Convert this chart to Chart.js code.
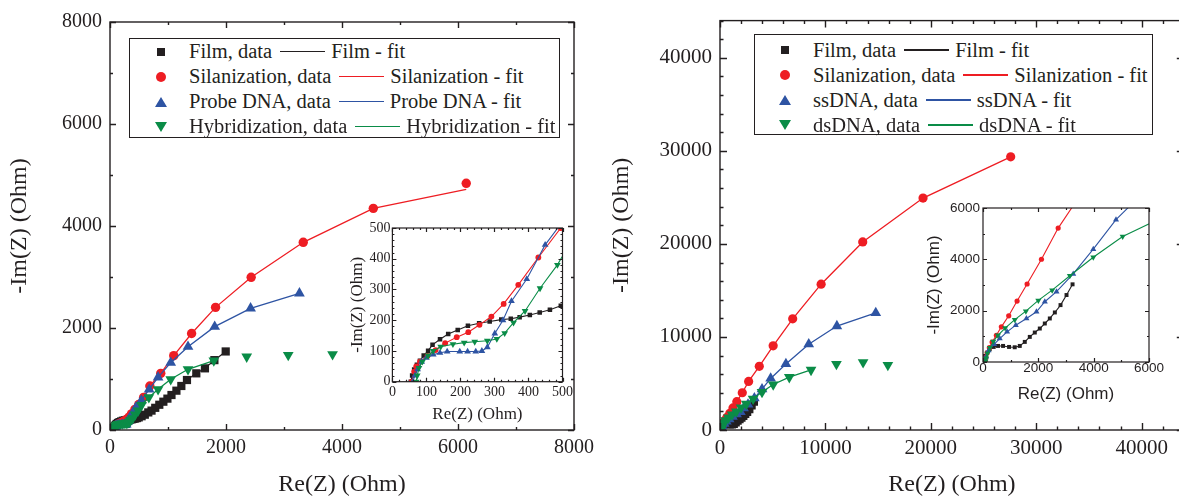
<!DOCTYPE html>
<html>
<head>
<meta charset="utf-8">
<script src="https://cdn.jsdelivr.net/npm/chart.js@4.4.1/dist/chart.umd.min.js"></script>
<style>
html, body { margin: 0; padding: 0; background: #fff; overflow: hidden; }
#wrap { position: relative; width: 1179px; height: 497px; overflow: hidden; }
canvas { position: absolute; }
.legend { position: absolute; border: 1.3px solid #231f20; background: #fff; box-sizing: border-box;
  font-family: "Liberation Serif", "Times New Roman", serif; font-size: 20.5px; color: #231f20; }
.row { position: absolute; left: 0; height: 25px; display: flex; align-items: center; white-space: nowrap; }
.sym { position: absolute; top: 50%; transform: translate(-50%, -50%); }
.sq { width: 8px; height: 8px; background: var(--c); }
.ci { width: 10px; height: 10px; border-radius: 50%; background: var(--c); }
.up { width: 0; height: 0; border-left: 6px solid transparent; border-right: 6px solid transparent; border-bottom: 10px solid var(--c); }
.dn { width: 0; height: 0; border-left: 6px solid transparent; border-right: 6px solid transparent; border-top: 10px solid var(--c); }
.ln { display: inline-block; width: 45px; height: 1.3px; margin: 0 6px 0 8px; }
</style>
</head>
<body>
<div id="wrap">
  <canvas id="mainL"></canvas>
  <canvas id="mainR"></canvas>
  <canvas id="insetL"></canvas>
  <canvas id="insetR"></canvas>
  <div id="legL" class="legend"></div>
  <div id="legR" class="legend"></div>
</div>
<script>
// ---- left panel (Probe DNA / Hybridization) ----
var namesL = ['Film', 'Silanization', 'Probe DNA', 'Hybridization'];

var filmReL = [54, 58, 64, 72, 81, 92, 105, 118, 140, 164, 192, 222, 255, 286, 320, 348, 374, 404, 433, 463, 495, 545, 600, 660, 716, 780, 850, 920, 990, 1060, 1145, 1230, 1327, 1488, 1637, 1800, 1995];
var filmImL = [0, 20, 40, 55, 68, 85, 101, 120, 138, 155, 168, 182, 190, 196, 202, 205, 210, 217, 225, 234, 247, 270, 300, 345, 380, 435, 495, 555, 615, 686, 771, 863, 980, 1111, 1209, 1370, 1540];

var silReL = [57, 64, 70, 81, 103, 127, 155, 189, 223, 256, 291, 327, 370, 429, 495, 580, 687, 875, 1099, 1407, 1820, 2434, 3332, 4540, 6142];
var silImL = [0, 33, 50, 65, 84, 103, 125, 145, 161, 185, 212, 253, 315, 404, 500, 640, 863, 1111, 1457, 1892, 2405, 2994, 3680, 4346, 4837];
var silFitReL = [57, 64, 70, 81, 103, 127, 155, 189, 223, 256, 291, 327, 370, 429, 495, 580, 687, 875, 1099, 1407, 1820, 2434, 3332, 4540, 6142];
var silFitImL = [0, 33, 50, 65, 84, 103, 125, 145, 161, 185, 212, 253, 315, 404, 500, 640, 863, 1111, 1457, 1892, 2405, 2994, 3680, 4346, 4720];

var probeReL = [60, 66, 74, 86, 100, 120, 140, 161, 198, 221, 245, 263, 279, 301, 325, 350, 395, 449, 540, 675, 829, 1047, 1345, 1805, 2424, 3266];
var probeImL = [0, 20, 40, 65, 78, 88, 94, 98, 98, 98, 98, 100, 112, 157, 200, 262, 334, 445, 580, 797, 1033, 1320, 1634, 2026, 2386, 2680];

var hybReL = [70, 73, 78, 88, 105, 120, 142, 178, 211, 242, 279, 307, 330, 356, 390, 434, 485, 544, 670, 829, 1047, 1345, 1790, 2357, 3073, 3837];
var hybImL = [0, 20, 45, 65, 85, 100, 114, 122, 127, 130, 133, 139, 158, 192, 230, 304, 380, 490, 639, 798, 994, 1190, 1360, 1437, 1470, 1484];
var hybFitReL = [70, 73, 78, 88, 105, 120, 142, 178, 211, 242, 279, 307, 330, 356, 390, 434, 485, 544, 670, 829, 1047, 1345, 1790];
var hybFitImL = [0, 20, 45, 65, 85, 100, 114, 122, 127, 130, 133, 139, 158, 192, 230, 304, 380, 490, 639, 798, 994, 1190, 1360];

// ---- right panel (ssDNA / dsDNA) ----
var namesR = ['Film', 'Silanization', 'ssDNA', 'dsDNA'];

var filmReR = [25, 36, 72, 145, 242, 386, 543, 725, 942, 1147, 1329, 1510, 1691, 1872, 2053, 2234, 2415, 2597, 2802, 3019, 3237];
var filmImR = [0, 104, 235, 365, 496, 587, 626, 626, 587, 574, 626, 783, 978, 1148, 1304, 1500, 1696, 1930, 2217, 2609, 3026];

var silReR = [70, 80, 100, 150, 230, 330, 483, 664, 930, 1232, 1594, 2113, 2717, 3727, 5043, 6896, 9593, 13540, 19263, 27577];
var silImR = [0, 60, 180, 350, 560, 780, 1043, 1370, 1800, 2374, 3039, 4004, 5217, 6844, 9043, 11950, 15670, 20213, 24926, 29362];

var ssReR = [60, 110, 200, 399, 604, 870, 1184, 1570, 1932, 2234, 2657, 3261, 3986, 4807, 6253, 8420, 11088, 14777];
var ssImR = [0, 200, 450, 691, 913, 1174, 1435, 1696, 1957, 2348, 2739, 3430, 4396, 5543, 7092, 9220, 11170, 12585];

var dsReR = [60, 90, 110, 160, 250, 370, 540, 800, 1150, 1550, 2000, 2500, 3140, 3986, 5048, 6575, 8636, 11045, 13575, 15925];
var dsImR = [0, 30, 150, 330, 560, 800, 1040, 1320, 1650, 1980, 2400, 2800, 3360, 4083, 4891, 5674, 6454, 7092, 7273, 6986];
var dsFitReR = [60, 90, 110, 160, 250, 370, 540, 800, 1150, 1550, 2000, 2500, 3140, 3986, 5048, 6575, 8636];
var dsFitImR = [0, 30, 150, 330, 560, 800, 1040, 1320, 1650, 1980, 2400, 2800, 3360, 4083, 4891, 5674, 6454];

// tick labels
var ticksMainL = [0, 2000, 4000, 6000, 8000];
var ticksInsetL = [0, 100, 200, 300, 400, 500];
var ticksMainR = [0, 10000, 20000, 30000, 40000];
var ticksInsetR = [0, 2000, 4000, 6000];

var ink = '#231f20';
var colors = [ink, '#ee1d23', '#2e54a3', '#0a8c47'];
var shapes = ['rect', 'circle', 'triangle', 'triangle'];
var rots = [0, 0, 0, 180];
var serif = '"Liberation Serif", "Times New Roman", serif';
var sans = '"Liberation Sans", Arial, sans-serif';

function pts(xs, ys) { return xs.map(function (v, i) { return { x: v, y: ys[i] }; }); }

//moldura e ticks para dentro nos quatro lados
var frameTicks = {
  id: 'frameTicks',
  beforeDraw: function (chart, args, o) {
    if (!o.fill) return;
    var a = chart.chartArea, ctx = chart.ctx;
    ctx.save(); ctx.fillStyle = '#fff'; ctx.fillRect(a.left, a.top, a.width, a.height); ctx.restore();
  },
  afterDraw: function (chart, args, o) {
    var ctx = chart.ctx, a = chart.chartArea, x = chart.scales.x, y = chart.scales.y;
    ctx.save();
    ctx.strokeStyle = ink; ctx.lineWidth = o.lw;
    ctx.beginPath();
    function marks(scale, step, len, horiz) {
      for (var i = Math.ceil(scale.min / step - 1e-9); i * step <= scale.max + 1e-9; i++) {
        var p = Math.round(scale.getPixelForValue(i * step)) + 0.5;
        if (horiz) {
          ctx.moveTo(p, a.bottom); ctx.lineTo(p, a.bottom - len);
          ctx.moveTo(p, a.top); ctx.lineTo(p, a.top + len);
        } else {
          ctx.moveTo(a.left, p); ctx.lineTo(a.left + len, p);
          ctx.moveTo(a.right, p); ctx.lineTo(a.right - len, p);
        }
      }
    }
    marks(x, o.xMinor, o.minLen, true); marks(x, o.xMajor, o.majLen, true);
    marks(y, o.yMinor, o.minLen, false); marks(y, o.yMajor, o.majLen, false);
    ctx.stroke();
    ctx.strokeRect(a.left, a.top, a.width, a.height);
    ctx.restore();
  }
};

function axis(o, size, horiz) {
  return {
    type: 'linear', min: o.min, max: o.max,
    afterFit: function (s) { if (horiz) s.height = size; else s.width = size; },
    afterBuildTicks: function (s) { s.ticks = o.ticks.map(function (v) { return { value: v }; }); },
    grid: { display: false, drawTicks: false },
    border: { display: false },
    ticks: { font: o.font, color: ink, padding: o.pad, autoSkip: false, maxRotation: 0,
      callback: function (v) { return String(v); } },
    title: { display: true, text: o.title, font: o.tfont, color: ink, padding: o.tpad }
  };
}

function sets(series, sz, lw) {
  var out = [];
  series.forEach(function (s) {
    var i = s.i;
    out.push({ data: pts(s.re, s.im), showLine: false, pointStyle: shapes[i], pointRotation: rots[i],
      pointRadius: sz[shapes[i]], pointHoverRadius: sz[shapes[i]], pointBackgroundColor: colors[i], pointBorderWidth: 0 });
    out.push({ data: pts(s.fre, s.fim), showLine: true, pointRadius: 0, pointHoverRadius: 0,
      borderColor: colors[i], borderWidth: lw, tension: 0 });
  });
  return out;
}

function panel(id, b, datasets, ox, oy, frame) {
  var cv = document.getElementById(id);
  cv.width = b.w; cv.height = b.h; cv.style.left = b.x + 'px'; cv.style.top = b.y + 'px';
  return new Chart(cv, {
    type: 'scatter',
    data: { datasets: datasets },
    options: {
      responsive: false, animation: false, devicePixelRatio: 1,
      layout: { padding: { left: 0, top: b.top, right: b.right, bottom: 0 } },
      plugins: { legend: { display: false }, tooltip: { enabled: false }, frameTicks: frame },
      scales: { x: axis(ox, b.xh, true), y: axis(oy, b.yw, false) }
    },
    plugins: [frameTicks]
  });
}

// desenhado na ordem inversa: o primeiro fica por cima
var seriesL = [
  { i: 3, re: hybReL, im: hybImL, fre: hybFitReL, fim: hybFitImL },
  { i: 2, re: probeReL, im: probeImL, fre: probeReL, fim: probeImL },
  { i: 1, re: silReL, im: silImL, fre: silFitReL, fim: silFitImL },
  { i: 0, re: filmReL, im: filmImL, fre: filmReL, fim: filmImL }
];
var seriesR = [
  { i: 3, re: dsReR, im: dsImR, fre: dsFitReR, fim: dsFitImR },
  { i: 2, re: ssReR, im: ssImR, fre: ssReR, fim: ssImR },
  { i: 1, re: silReR, im: silImR, fre: silReR, fim: silImR },
  { i: 0, re: filmReR, im: filmImR, fre: filmReR, fim: filmImR }
];

var big = { size: 24, family: serif, lineHeight: 1 };
var mid = { size: 17, family: serif, lineHeight: 1 };
var midS = { size: 17, family: sans, lineHeight: 1 };

panel('mainL', { x: 0, y: 0, w: 600, h: 497, top: 22, right: 24, xh: 67, yw: 110 },
  sets(seriesL, { rect: 5.8, circle: 4.7, triangle: 6.2 }, 1.3),
  { min: 0, max: 8000, ticks: ticksMainL, font: { size: 20, family: serif }, pad: 6, title: 'Re(Z) (Ohm)', tfont: big, tpad: { top: 0, bottom: 0 } },
  { min: 0, max: 8000, ticks: ticksMainL, font: { size: 20, family: serif }, pad: 8, title: '-Im(Z) (Ohm)', tfont: big, tpad: { top: 8, bottom: 0 } },
  { lw: 1.4, xMajor: 2000, xMinor: 1000, yMajor: 2000, yMinor: 1000, majLen: 6, minLen: 3 });

panel('mainR', { x: 590, y: 0, w: 600, h: 497, top: 16.5, right: 5, xh: 67, yw: 130 },
  sets(seriesR, { rect: 5.5, circle: 4.6, triangle: 6.2 }, 1.3),
  { min: 0, max: 44000, ticks: ticksMainR, font: { size: 21, family: serif }, pad: 6, title: 'Re(Z) (Ohm)', tfont: big, tpad: { top: 0, bottom: 0 } },
  { min: 0, max: 44000, ticks: ticksMainR, font: { size: 21, family: serif }, pad: 8, title: '-Im(Z) (Ohm)', tfont: big, tpad: { top: 20, bottom: 0 } },
  { lw: 1.4, xMajor: 10000, xMinor: 2000, yMajor: 10000, yMinor: 2000, majLen: 7, minLen: 3.5 });

panel('insetL', { x: 340, y: 215, w: 235, h: 215, top: 13, right: 10.5, xh: 48.3, yw: 52.4 },
  sets(seriesL, { rect: 3.2, circle: 2.9, triangle: 3.9 }, 1.1),
  { min: 0, max: 500, ticks: ticksInsetL, font: { size: 14, family: serif }, pad: 2, title: 'Re(Z) (Ohm)', tfont: mid, tpad: { top: 0, bottom: 6.5 } },
  { min: 0, max: 500, ticks: ticksInsetL, font: { size: 14, family: serif }, pad: 2, title: '-Im(Z) (Ohm)', tfont: mid, tpad: { top: 9.5, bottom: 0 } },
  { fill: true, lw: 1.2, xMajor: 100, xMinor: 20, yMajor: 100, yMinor: 20, majLen: 4, minLen: 2 });

panel('insetR', { x: 925, y: 195, w: 260, h: 215, top: 13, right: 36, xh: 48, yw: 58 },
  sets(seriesR, { rect: 2.8, circle: 2.6, triangle: 3.5 }, 1.1),
  { min: 0, max: 6000, ticks: ticksInsetR, font: { size: 13.5, family: sans, lineHeight: 1 }, pad: 0, title: 'Re(Z) (Ohm)', tfont: midS, tpad: { top: 0, bottom: 7.5 } },
  { min: 0, max: 6000, ticks: ticksInsetR, font: { size: 13.5, family: sans }, pad: 3, title: '-Im(Z) (Ohm)', tfont: midS, tpad: { top: 0.5, bottom: 0 } },
  { fill: true, lw: 1.2, xMajor: 2000, xMinor: 1000, yMajor: 2000, yMinor: 1000, majLen: 4, minLen: 2 });

// legendas em HTML
var symCls = ['sq', 'ci', 'up', 'dn'];
function buildLegend(id, names, b) {
  var el = document.getElementById(id);
  el.style.left = b.x + 'px'; el.style.top = b.y + 'px';
  el.style.width = b.w + 'px'; el.style.height = b.h + 'px';
  names.forEach(function (n, i) {
    var row = document.createElement('div');
    row.className = 'row';
    row.style.top = (b.pad + i * 25) + 'px';
    row.innerHTML = '<span class="sym ' + symCls[i] + '" style="left:' + b.symX + 'px;--c:' + colors[i] + '"></span>' +
      '<span style="margin-left:' + b.textX + 'px">' + n + ', data</span>' +
      '<span class="ln" style="background:' + colors[i] + '"></span><span>' + n + ' - fit</span>';
    el.appendChild(row);
  });
}
buildLegend('legL', namesL, { x: 129, y: 38, w: 431, h: 100, pad: 0, symX: 31, textX: 59 });
buildLegend('legR', namesR, { x: 754, y: 34, w: 399, h: 101, pad: 2.5, symX: 30, textX: 58 });
</script>
</body>
</html>
